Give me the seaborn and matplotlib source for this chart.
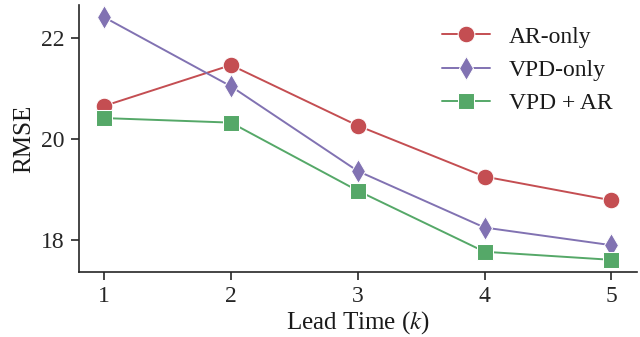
import matplotlib
matplotlib.use("Agg")
import matplotlib.pyplot as plt
import seaborn as sns
import pandas as pd

lead_times = [1, 2, 3, 4, 5]
ar_only = [20.66, 21.47, 20.27, 19.26, 18.79]
vpd_only = [22.42, 21.05, 19.37, 18.25, 17.90]
vpd_ar = [20.42, 20.33, 18.98, 17.77, 17.61]
model_names = ["AR-only", "VPD-only", "VPD + AR"]

sns.set_theme(style="ticks", rc={
    "axes.edgecolor": "#262626", "xtick.color": "#262626", "ytick.color": "#262626",
    "text.color": "#1a1a1a", "axes.labelcolor": "#1a1a1a",
})
plt.rcParams["font.family"] = ["Liberation Serif", "DejaVu Serif"]
plt.rcParams["mathtext.fontset"] = "stix"

frames = []
for name, vals in zip(model_names, [ar_only, vpd_only, vpd_ar]):
    frames.append(pd.DataFrame({"k": lead_times, "RMSE": vals, "Model": name}))
df = pd.concat(frames, ignore_index=True)

palette = {"AR-only": "#C44E52", "VPD-only": "#8172B2", "VPD + AR": "#55A868"}
markers = {"AR-only": "o", "VPD-only": "d", "VPD + AR": "s"}

fig, ax = plt.subplots(figsize=(6.4, 3.37), dpi=100)
sns.lineplot(data=df, x="k", y="RMSE", hue="Model", style="Model",
             hue_order=model_names, style_order=model_names,
             palette=palette, markers=markers, dashes=False,
             markersize=12, linewidth=1.4, ax=ax)

ax.set_xticks(lead_times)
ax.set_yticks([18, 20, 22])
ax.set_xlabel("Lead Time ($k$)", fontsize=18, labelpad=2)
ax.set_ylabel("RMSE", fontsize=18, labelpad=4)
ax.tick_params(labelsize=17, length=6, width=1.2, pad=4)
for s in ax.spines.values():
    s.set_linewidth(1.2)
sns.despine(ax=ax)

leg = ax.legend(loc="upper right", bbox_to_anchor=(0.9695, 0.948),
                frameon=False, fontsize=17,
                handlelength=2.05, handletextpad=0.8, labelspacing=0.5,
                borderaxespad=0.1, borderpad=0.2, markerscale=1.0)

fig.subplots_adjust(left=0.123, right=0.995, bottom=0.193, top=0.985)
fig.savefig("out.png", dpi=100)
